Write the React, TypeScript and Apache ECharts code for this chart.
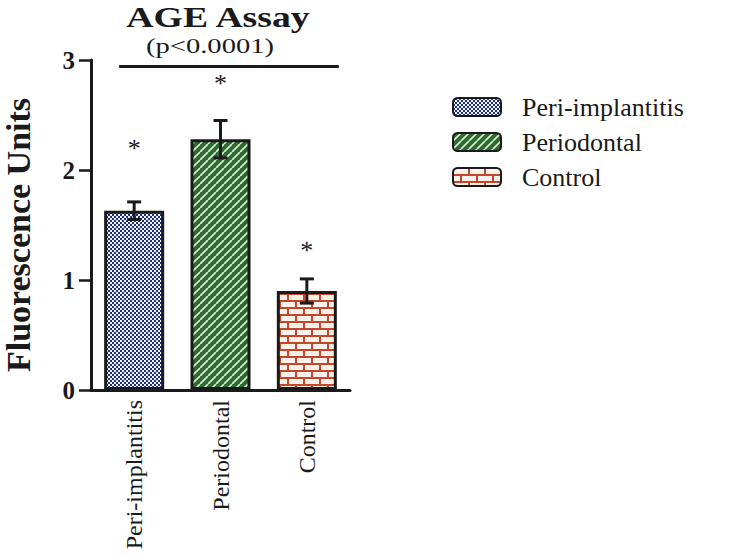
import React, { useEffect, useRef } from "react";
import * as echarts from "echarts";

const categories = ["Peri-implantitis", "Periodontal", "Control"];
const means = [1.63, 2.28, 0.9];
const errors = [0.08, 0.17, 0.11];
const starHeights = [2.2, 2.79, 1.27];
const sigLineValue = 2.94;
const yMin = 0;
const yMax = 3;
const yInterval = 1;
const titleText = "AGE Assay";
const pText = "(p<0.0001)";

const SERIF = "Liberation Serif";

function makeChecker(): HTMLCanvasElement {
  const c = document.createElement("canvas");
  c.width = 4;
  c.height = 4;
  const g = c.getContext("2d")!;
  g.fillStyle = "#1d2f85";
  g.fillRect(0, 0, 4, 4);
  g.fillStyle = "#f2f4ff";
  g.fillRect(0, 0, 2, 2);
  g.fillRect(2, 2, 2, 2);
  return c;
}

function makeStripes(): HTMLCanvasElement {
  const s = 8;
  const c = document.createElement("canvas");
  c.width = s;
  c.height = s;
  const g = c.getContext("2d")!;
  g.fillStyle = "#2d6a31";
  g.fillRect(0, 0, s, s);
  g.strokeStyle = "#dcefd6";
  g.lineWidth = 1.6;
  g.beginPath();
  for (let k = -1; k <= 1; k++) {
    g.moveTo(k * s, s);
    g.lineTo(k * s + s, 0);
  }
  g.stroke();
  return c;
}

function makeBricks(): HTMLCanvasElement {
  const c = document.createElement("canvas");
  c.width = 16;
  c.height = 14;
  const g = c.getContext("2d")!;
  g.fillStyle = "#c4472b";
  g.fillRect(0, 0, 16, 14);
  g.fillStyle = "#fdf1ec";
  g.fillRect(1, 1, 14, 5);
  g.fillRect(9, 8, 7, 5);
  g.fillRect(0, 8, 7, 5);
  return c;
}

export default function App() {
  const ref = useRef<HTMLDivElement>(null);

  useEffect(() => {
    if (!ref.current) return;
    const chart = echarts.init(ref.current, null, { renderer: "svg" });
    const patterns = [makeChecker(), makeStripes(), makeBricks()];

    const barSeries = categories.map((name, i) => ({
      name,
      type: "bar",
      stack: "bars",
      barWidth: 60,
      data: categories.map((_, j) => (j === i ? means[i] : "-")),
      itemStyle: {
        color: { image: patterns[i], repeat: "repeat" },
        borderColor: "#1a1a1a",
        borderWidth: 3,
      },
      z: 2,
    }));

    const option: any = {
      animation: false,
      backgroundColor: "#ffffff",
      textStyle: { fontFamily: SERIF, color: "#1a1a1a" },
      grid: { left: 86, right: 394, top: 60, bottom: 167, containLabel: false },
      legend: {
        orient: "vertical",
        left: 447,
        top: 89,
        data: categories,
        icon: "roundRect",
        itemWidth: 48,
        itemHeight: 18,
        itemGap: 9,
        selectedMode: false,
        textStyle: {
          fontFamily: SERIF,
          fontSize: 26,
          color: "#1a1a1a",
          padding: [0, 0, 0, 16],
        },
      },
      graphic: [
        {
          type: "text",
          x: 218,
          y: 17,
          scaleX: 1.3,
          style: {
            text: titleText,
            fontFamily: SERIF,
            fontWeight: "bold",
            fontSize: 29,
            fill: "#1a1a1a",
            align: "center",
            verticalAlign: "middle",
          },
        },
        {
          type: "text",
          x: 210,
          y: 46,
          scaleX: 1.3,
          style: {
            text: pText,
            fontFamily: SERIF,
            fontSize: 22,
            fill: "#1a1a1a",
            align: "center",
            verticalAlign: "middle",
          },
        },
      ],
      xAxis: {
        type: "category",
        data: categories,
        axisLine: { lineStyle: { color: "#1a1a1a", width: 3 } },
        axisTick: { show: false },
        axisLabel: {
          rotate: 90,
          margin: 10,
          fontFamily: SERIF,
          fontSize: 24,
          color: "#1a1a1a",
        },
      },
      yAxis: {
        type: "value",
        min: yMin,
        max: yMax,
        interval: yInterval,
        name: "Fluorescence Units",
        nameLocation: "middle",
        nameRotate: 90,
        nameGap: 56,
        nameTextStyle: {
          fontFamily: SERIF,
          fontWeight: "bold",
          fontSize: 34,
          color: "#1a1a1a",
          padding: [0, 20, 0, 0],
        },
        axisLine: { show: true, lineStyle: { color: "#1a1a1a", width: 3 } },
        axisTick: { show: true, length: 12, lineStyle: { color: "#1a1a1a", width: 2.5 } },
        splitLine: { show: false },
        axisLabel: {
          margin: 16,
          fontFamily: SERIF,
          fontWeight: "bold",
          fontSize: 25,
          color: "#1a1a1a",
        },
      },
      series: [
        ...barSeries,
        {
          name: "errors",
          type: "custom",
          data: categories.map((_, i) => [i, means[i] - errors[i], means[i] + errors[i]]),
          encode: { x: 0, y: [1, 2] },
          z: 5,
          renderItem: (params: any, api: any) => {
            const idx = api.value(0);
            const lo = api.coord([idx, api.value(1)]);
            const hi = api.coord([idx, api.value(2)]);
            const hw = 7;
            const st = { stroke: "#1a1a1a", lineWidth: 3 };
            return {
              type: "group",
              children: [
                { type: "line", shape: { x1: lo[0], y1: lo[1], x2: hi[0], y2: hi[1] }, style: st },
                { type: "line", shape: { x1: hi[0] - hw, y1: hi[1], x2: hi[0] + hw, y2: hi[1] }, style: st },
                { type: "line", shape: { x1: lo[0] - hw, y1: lo[1], x2: lo[0] + hw, y2: lo[1] }, style: st },
              ],
            };
          },
        },
        {
          name: "stars",
          type: "custom",
          data: categories.map((_, i) => [i, starHeights[i]]),
          encode: { x: 0, y: 1 },
          z: 6,
          renderItem: (params: any, api: any) => {
            const p = api.coord([api.value(0), api.value(1)]);
            return {
              type: "text",
              x: p[0],
              y: p[1],
              style: {
                text: "*",
                fontFamily: SERIF,
                fontSize: 26,
                fill: "#1a1a1a",
                align: "center",
                verticalAlign: "middle",
              },
            };
          },
        },
        {
          name: "sigline",
          type: "custom",
          data: [[0, sigLineValue]],
          encode: { x: 0, y: 1 },
          z: 6,
          renderItem: (params: any, api: any) => {
            const v = api.value(1);
            const a = api.coord([0, v]);
            const b = api.coord([categories.length - 1, v]);
            return {
              type: "line",
              shape: { x1: a[0] - 15, y1: a[1], x2: b[0] + 32, y2: b[1] },
              style: { stroke: "#1a1a1a", lineWidth: 3 },
            };
          },
        },
      ],
    };

    chart.setOption(option);
    return () => chart.dispose();
  }, []);

  return (
    <div
      ref={ref}
      style={{ position: "absolute", left: 0, top: 0, width: 744, height: 557 }}
    />
  );
}
